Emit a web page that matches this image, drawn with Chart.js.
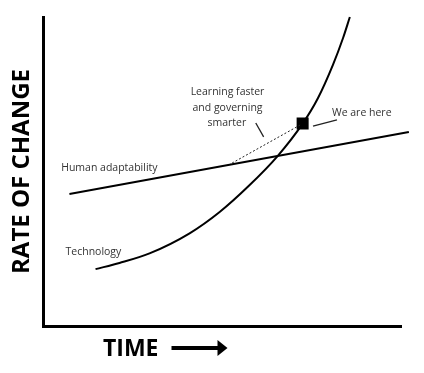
<!DOCTYPE html>
<html>
<head>
<meta charset="utf-8">
<script src="https://cdn.jsdelivr.net/npm/chart.js@4/dist/chart.umd.min.js"></script>
<style>
html,body{margin:0;padding:0;background:#fff;}
#wrap{width:424px;height:373px;}
</style>
</head>
<body>
<div id="wrap"><canvas id="c" width="424" height="373"></canvas></div>
<script>
// ---- data (arbitrary units: time 0-100, rate of change 0-100) ----
const timeTech  = [14.6, 21.3, 29.7, 40.9, 49.3, 57.4, 65.5, 72.5, 76.8, 81.0, 83.8, 85.7];
const rateTech  = [18.4, 20.4, 23.5, 30.0, 36.9, 45.3, 55.0, 65.5, 73.8, 84.6, 93.2, 100.0];
const timeHuman = [7.3, 102.2];
const rateHuman = [42.7, 62.8];
const timeNow   = [72.5];
const rateNow   = [65.5];
const timeGap   = [51.8, 72.5];
const rateGap   = [52.1, 65.5];
const timeLearnPtr = [59.4, 61.6];
const rateLearnPtr = [65.7, 61.2];
const timeHerePtr  = [75.4, 82.1];
const rateHerePtr  = [64.7, 66.7];
const labelTexts = ['Human adaptability', 'Technology', 'Learning faster', 'and governing', 'smarter', 'We are here'];
const axisTitleY = 'RATE OF CHANGE';
const axisTitleX = 'TIME';

function pts(xs, ys){ return xs.map((x,i)=>({x:x, y:ys[i]})); }

// label anchor spots (data units), kept separate from the data
const labelSpots = [
  {t:0, x:5.0,  y:51.1, align:'left'},
  {t:1, x:6.2,  y:23.9, align:'left'},
  {t:2, x:51.5, y:75.7, align:'center'},
  {t:3, x:51.5, y:70.6, align:'center'},
  {t:4, x:51.3, y:65.7, align:'center'},
  {t:5, x:80.7, y:68.9, align:'left'}
];

const annot = {
  id:'annot',
  afterDatasetsDraw(chart){
    const ctx = chart.ctx, xs = chart.scales.x, ys = chart.scales.y;
    ctx.save();
    ctx.fillStyle = '#333';
    ctx.font = '10.5px "Open Sans"';
    ctx.textBaseline = 'middle';
    labelSpots.forEach(s=>{
      ctx.textAlign = s.align;
      ctx.fillText(labelTexts[s.t], xs.getPixelForValue(s.x), ys.getPixelForValue(s.y));
    });
    // TIME + arrow
    ctx.fillStyle = '#000';
    ctx.font = 'bold 23px "Open Sans"';
    ctx.textAlign = 'left';
    const tx = 103, ty = 349;
    ctx.fillText(axisTitleX, tx, ty);
    const w = ctx.measureText(axisTitleX).width;
    const a0 = tx + w + 13, a1 = a0 + 56;
    ctx.strokeStyle = '#000';
    ctx.lineWidth = 4;
    ctx.beginPath(); ctx.moveTo(a0, ty-1); ctx.lineTo(a1-8, ty-1); ctx.stroke();
    ctx.beginPath(); ctx.moveTo(a1-10, ty-9); ctx.lineTo(a1, ty-1); ctx.lineTo(a1-10, ty+7); ctx.closePath(); ctx.fill();
    ctx.restore();
  }
};

new Chart(document.getElementById('c'), {
  type: 'scatter',
  data: {
    datasets: [
      {label:'Technology', data: pts(timeTech, rateTech), showLine:true, borderColor:'#000', borderWidth:2,
       pointRadius:0, cubicInterpolationMode:'monotone', clip:false},
      {label:'Human adaptability', data: pts(timeHuman, rateHuman), showLine:true, borderColor:'#000', borderWidth:2,
       pointRadius:0, clip:false},
      {label:'gap', data: pts(timeGap, rateGap), showLine:true, borderColor:'#222', borderWidth:1, borderDash:[2,2],
       pointRadius:0},
      {label:'ptr1', data: pts(timeLearnPtr, rateLearnPtr), showLine:true, borderColor:'#222', borderWidth:1.3, pointRadius:0},
      {label:'ptr2', data: pts(timeHerePtr, rateHerePtr), showLine:true, borderColor:'#222', borderWidth:1.3, pointRadius:0},
      {label:'We are here', data: pts(timeNow, rateNow), showLine:false, pointStyle:'rect', pointRadius:8.5,
       backgroundColor:'#000', borderColor:'#000', borderWidth:0}
    ]
  },
  options: {
    responsive:false, animation:false, devicePixelRatio:1,
    layout:{padding:{left:3.5, right:23, top:17, bottom:47}},
    plugins:{legend:{display:false}, tooltip:{enabled:false}},
    scales:{
      x:{type:'linear', min:0, max:100, display:true,
         grid:{display:false, drawTicks:false}, ticks:{display:false},
         border:{display:true, color:'#000', width:3}},
      y:{type:'linear', min:0, max:100, display:true,
         grid:{display:false, drawTicks:false}, ticks:{display:false},
         border:{display:true, color:'#000', width:3},
         title:{display:true, text:axisTitleY, color:'#000',
                font:{family:'"Open Sans"', size:24, weight:'bold'}, padding:{top:4, bottom:7}}}
    }
  },
  plugins:[annot]
});
</script>
</body>
</html>
